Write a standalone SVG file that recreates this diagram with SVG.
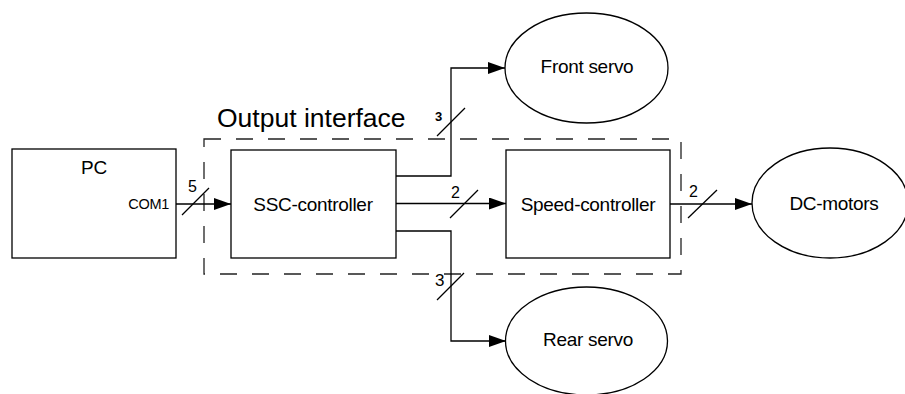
<svg xmlns="http://www.w3.org/2000/svg" width="905" height="394" viewBox="0 0 905 394">
<defs>
<marker id="ah" markerUnits="userSpaceOnUse" markerWidth="18" markerHeight="12" refX="17" refY="6" orient="auto">
<path d="M0,0 L17,6 L0,12 Z" fill="#000"/>
</marker>
</defs>
<style>
.box{fill:#fff;stroke:#000;stroke-width:1.3}
.ell{fill:#fff;stroke:#000;stroke-width:1.3}
.ln{fill:none;stroke:#000;stroke-width:1.3}
.dash{fill:none;stroke:#222;stroke-width:1.3;stroke-dasharray:17 15}
text{font-family:"Liberation Sans",Arial,sans-serif;fill:#000}
.lbl{font-size:19px;text-anchor:middle;letter-spacing:-0.3px}
.num{font-size:16px}
</style>
<rect width="905" height="394" fill="#fff"/>
<g id="output-interface">
<rect class="dash" x="204" y="139" width="477" height="135"/>
<text x="217" y="127" font-size="26.5px">Output interface</text>
</g>
<g id="pc">
<rect class="box" x="12" y="149" width="164" height="109"/>
<text class="lbl" x="94" y="174">PC</text>
<text x="169" y="209" font-size="14.5px" text-anchor="end" letter-spacing="-0.3px">COM1</text>
</g>
<g id="ssc">
<rect class="box" x="231" y="150" width="165" height="108"/>
<text class="lbl" x="313" y="211">SSC-controller</text>
</g>
<g id="speed">
<rect class="box" x="506" y="150" width="164" height="108"/>
<text class="lbl" x="588" y="211">Speed-controller</text>
</g>
<g id="front-servo">
<ellipse class="ell" cx="586.5" cy="68" rx="81.5" ry="55"/>
<text class="lbl" x="587" y="73">Front servo</text>
</g>
<g id="rear-servo">
<ellipse class="ell" cx="586.5" cy="341" rx="81" ry="54"/>
<text class="lbl" x="588" y="346">Rear servo</text>
</g>
<g id="dc-motors">
<ellipse class="ell" cx="830" cy="203" rx="78" ry="55"/>
<text class="lbl" x="834" y="210">DC-motors</text>
</g>
<g id="connectors">
<path class="ln" d="M176,204 H231" marker-end="url(#ah)"/>
<path class="ln" d="M182,215 L209,188"/>
<text class="num" x="188" y="192">5</text>
<path class="ln" d="M396,176 H451 V68 H505" marker-end="url(#ah)"/>
<path class="ln" d="M437,136 L465,108"/>
<text x="435" y="121" font-size="13px" font-weight="bold">3</text>
<path class="ln" d="M396,203.5 H506" marker-end="url(#ah)"/>
<path class="ln" d="M450,218 L478,190"/>
<text class="num" x="451" y="198">2</text>
<path class="ln" d="M396,231 H451 V341 H506" marker-end="url(#ah)"/>
<path class="ln" d="M437,300 L464,273"/>
<text x="435" y="286" font-size="17px">3</text>
<path class="ln" d="M670,204 H752" marker-end="url(#ah)"/>
<path class="ln" d="M688,218 L717,190"/>
<text class="num" x="689" y="197">2</text>
</g>
</svg>
